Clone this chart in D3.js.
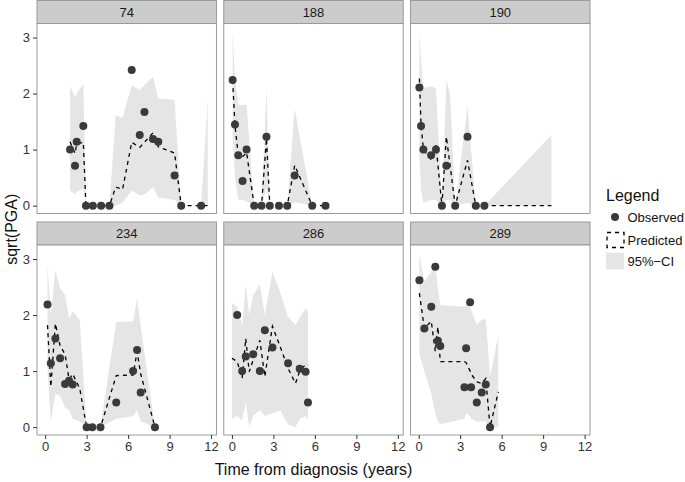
<!DOCTYPE html>
<html><head><meta charset="utf-8">
<script src="https://cdn.jsdelivr.net/npm/d3@7"></script>
<style>body{margin:0;background:#fff}svg{display:block}</style>
</head><body>
<svg id="chart" width="685" height="482"></svg>
<script>
// ---- data ----
const panelIds = ["74", "188", "190", "234", "286", "289"];
const xTicks = [0, 3, 6, 9, 12];
const yTicks = [0, 1, 2, 3];
const legendLabels = ["Observed", "Predicted", "95%\u2212CI"];

const time74 = [1.8, 2.16, 2.28, 2.76, 2.95, 3.45, 4.05, 4.65, 5.1, 5.6, 6.26, 6.84, 7.18, 7.8, 8.18, 9.36, 9.84, 11.28, 11.76];
const obs74  = [1.0, 0.71, 1.14, 1.42, 0, 0, 0, 0, null, null, 2.42, 1.26, 1.67, 1.19, 1.14, 0.54, 0, 0, null];
const pred74 = [1.14, 0.93, 1.1, 1.13, 0, 0, 0, 0, 0.33, 0.29, 1.13, 1.04, 1.13, 1.3, 1.05, 0.94, 0, 0, 0];
const lo74   = [0.27, 0.21, 0.25, 0.3, 0, 0, 0, 0, 0, 0.05, 0.27, 0.18, 0.2, 0.33, 0.15, 0.1, 0, 0, 0];
const hi74   = [2.13, 1.94, 2.0, 2.17, 0, 0, 0, 0, 1.61, 1.57, 2.15, 2.06, 2.15, 2.3, 1.91, 1.89, 0, 0, 1.9];

const time188 = [0.05, 0.22, 0.46, 0.77, 1.06, 1.61, 2.14, 2.5, 2.74, 3.4, 4.0, 4.54, 5.81, 6.77];
const obs188  = [2.24, 1.45, 0.9, 0.44, 1.0, 0, 0, 1.23, 0, 0, 0, 0.54, 0, 0];
const pred188 = [2.24, 1.43, 0.9, 0.87, 0.95, 0, 0, 1.2, 0, 0, 0, 0.72, 0, 0];
const lo188   = [1.2, 0.5, 0.1, 0.1, 0.08, 0, 0, 0.3, 0, 0, 0, 0.06, 0, 0];
const hi188   = [3.1, 2.3, 1.8, 1.8, 1.8, 0, 0, 2.09, 0, 0, 0, 1.73, 0, 0];

const time190 = [0.05, 0.17, 0.34, 0.9, 1.25, 1.68, 2.0, 2.28, 2.64, 3.53, 4.13, 4.75, 9.6];
const obs190  = [2.11, 1.42, 1.0, 0.9, 1.0, 0, 0.71, null, 0, 1.23, 0, 0, null];
const pred190 = [2.27, 1.45, 1.0, 0.82, 1.08, 0, 1.23, 0.7, 0, 0.81, 0, 0, 0];
const lo190   = [0.9, 0.3, 0.05, 0.1, 0.1, 0, 0.1, 0.1, 0, 0.05, 0, 0, 0];
const hi190   = [3.1, 2.6, 2.1, 2.13, 2.09, 0, 2.24, 1.97, 0, 1.77, 0, 0, 1.26];

const time234 = [0.17, 0.41, 0.74, 1.08, 1.44, 1.73, 1.99, 2.5, 3.0, 3.41, 4.0, 5.14, 6.36, 6.65, 6.91, 7.94];
const obs234  = [2.19, 1.14, 1.58, 1.23, 0.77, 0.83, 0.76, null, 0, 0, 0, 0.44, 1.0, 1.375, 0.62, 0];
const pred234 = [1.82, 0.72, 1.85, 1.45, 1.3, 0.85, 0.95, 0.69, 0, 0, 0, 0.92, 0.93, 1.35, 0.95, 0];
const lo234   = [1.0, 0.1, 0.6, 0.55, 0.35, 0.3, 0.15, 0.1, 0, 0, 0, 0.15, 0.2, 0.3, 0.1, 0];
const hi234   = [2.89, 2.0, 2.8, 2.48, 2.36, 1.94, 2.07, 1.91, 0, 0, 0, 1.87, 1.89, 2.3, 1.8, 0];

const time286 = [0, 0.38, 0.74, 1.0, 1.25, 1.54, 2.02, 2.38, 2.93, 3.5, 4.06, 4.6, 4.9, 5.33, 5.5];
const obs286  = [null, 2.0, 1.0, 1.26, null, 1.3, 1.0, 1.73, 1.42, null, 1.14, null, 1.04, 0.99, 0.44];
const pred286 = [1.23, 1.17, 0.87, 1.58, 0.99, 1.2, 1.55, 0.9, 1.8, 1.43, 1.05, 0.78, 1.0, 1.12, 1.1];
const lo286   = [0.15, 0.2, 0.12, 0.45, 0.0, 0.2, 0.3, 0.2, 0.25, 0.3, 0.05, 0.0, 0.15, 0.2, 0.15];
const hi286   = [2.21, 2.15, 1.82, 2.54, 2.0, 2.36, 2.54, 2.0, 2.77, 2.4, 1.97, 1.82, 1.95, 2.12, 2.06];

const time289 = [0.05, 0.41, 0.91, 1.2, 1.39, 1.56, 3.31, 3.43, 3.72, 3.79, 4.2, 4.56, 4.85, 5.16, 5.76];
const obs289  = [2.62, 1.76, 2.15, 2.86, 1.54, 1.45, 0.71, 1.41, 2.23, 0.71, 0.44, 0.62, 0.76, 0, null];
const pred289 = [2.39, 1.76, 1.89, 1.35, 1.79, 1.17, 1.17, 1.15, 1.0, 0.95, 0.81, 0.78, 0.87, 0, 0.63];
const lo289   = [1.3, 1.0, 0.6, 0.25, 0.1, 0.05, 0.15, 0.25, 0.2, 0.15, 0.1, 0.1, 0.1, 0, 0];
const hi289   = [3.07, 2.6, 2.77, 2.92, 2.48, 2.18, 2.15, 2.2, 2.12, 2.1, 1.82, 1.91, 1.94, 0.9, 1.64];

const panelData = {
  "74":  {time: time74,  obs: obs74,  pred: pred74,  lo: lo74,  hi: hi74},
  "188": {time: time188, obs: obs188, pred: pred188, lo: lo188, hi: hi188},
  "190": {time: time190, obs: obs190, pred: pred190, lo: lo190, hi: hi190},
  "234": {time: time234, obs: obs234, pred: pred234, lo: lo234, hi: hi234},
  "286": {time: time286, obs: obs286, pred: pred286, lo: lo286, hi: hi286},
  "289": {time: time289, obs: obs289, pred: pred289, lo: lo289, hi: hi289}
};

// ---- layout ----
const FONT = "'Liberation Sans', Arial, Helvetica, sans-serif";
const left = 37, right = 590, gapX = 7.3;
const pw = (right - left - 2 * gapX) / 3;
const stripH = 23, ph = 190, rowTop = [0.5, 222];
const ciFill = "#e5e5e5", ptFill = "#3a3a3a", borderCol = "#9a9a9a";

const svg = d3.select("#chart").style("font-family", FONT);

panelIds.forEach((id, i) => {
  const col = i % 3, row = Math.floor(i / 3);
  const px = left + col * (pw + gapX);
  const sy = rowTop[row];
  const py = sy + stripH;
  const d = panelData[id];
  const rows = d.time.map((t, k) => ({t, obs: d.obs[k], pred: d.pred[k], lo: d.lo[k], hi: d.hi[k]}));

  const x = d3.scaleLinear().domain([-0.59, 12.39]).range([px, px + pw]);
  const y = d3.scaleLinear().domain([-0.14, 3.25]).range([py + ph, py]);

  const g = svg.append("g");
  // strip
  g.append("rect").attr("x", px).attr("y", sy).attr("width", pw).attr("height", stripH)
    .attr("fill", "#cccccc").attr("stroke", borderCol).attr("stroke-width", 1);
  g.append("text").attr("x", px + pw / 2).attr("y", sy + stripH / 2).attr("dy", "0.36em")
    .attr("text-anchor", "middle").attr("font-size", 13).attr("fill", "#1a1a1a").text(id);
  // panel background
  g.append("rect").attr("x", px).attr("y", py).attr("width", pw).attr("height", ph).attr("fill", "#fff");

  // ribbon
  g.append("path").datum(rows)
    .attr("d", d3.area().x(r => x(r.t)).y0(r => y(r.lo)).y1(r => y(r.hi)))
    .attr("fill", ciFill);
  // predicted line
  g.append("path").datum(rows)
    .attr("d", d3.line().x(r => x(r.t)).y(r => y(r.pred)))
    .attr("fill", "none").attr("stroke", "#000").attr("stroke-width", 1.3)
    .attr("stroke-dasharray", "4,4");
  // observed points
  g.selectAll("circle.obs").data(rows.filter(r => r.obs !== null)).join("circle")
    .attr("class", "obs").attr("cx", r => x(r.t)).attr("cy", r => y(r.obs))
    .attr("r", 4).attr("fill", ptFill);

  // panel border
  g.append("rect").attr("x", px).attr("y", py).attr("width", pw).attr("height", ph)
    .attr("fill", "none").attr("stroke", borderCol).attr("stroke-width", 1);

  // axes
  if (col === 0) {
    const ay = g.append("g").attr("transform", `translate(${px},0)`)
      .call(d3.axisLeft(y).tickValues(yTicks).tickSize(4).tickPadding(3).tickFormat(d3.format("d")));
    ay.select(".domain").remove();
    ay.selectAll("line").attr("stroke", "#333");
    ay.selectAll("text").attr("font-size", 13).attr("fill", "#333").attr("font-family", FONT);
  }
  if (row === 1) {
    const ax = g.append("g").attr("transform", `translate(0,${py + ph})`)
      .call(d3.axisBottom(x).tickValues(xTicks).tickSize(4).tickPadding(3).tickFormat(d3.format("d")));
    ax.select(".domain").remove();
    ax.selectAll("line").attr("stroke", "#333");
    ax.selectAll("text").attr("font-size", 13).attr("fill", "#333").attr("font-family", FONT);
  }
});

// axis titles
svg.append("text").attr("x", (left + right) / 2).attr("y", 475).attr("text-anchor", "middle")
  .attr("font-size", 16).attr("fill", "#111").text("Time from diagnosis (years)");
svg.append("text").attr("transform", `translate(17,${(23.5 + 435) / 2}) rotate(-90)`)
  .attr("text-anchor", "middle").attr("font-size", 16).attr("fill", "#111").text("sqrt(PGA)");

// legend
const lg = svg.append("g");
lg.append("text").attr("x", 606).attr("y", 201).attr("font-size", 16).attr("fill", "#111").text("Legend");
const keyX = 606, keyW = 18;
const keyY = [217, 240, 261];
lg.append("circle").attr("cx", keyX + keyW / 2).attr("cy", keyY[0]).attr("r", 4).attr("fill", ptFill);
lg.append("rect").attr("x", keyX + 1).attr("y", keyY[1] - 7.5).attr("width", keyW - 1).attr("height", 15)
  .attr("fill", "#fff").attr("stroke", "#000").attr("stroke-width", 1.3).attr("stroke-dasharray", "4,4");
lg.append("rect").attr("x", keyX).attr("y", keyY[2] - 8.5).attr("width", keyW).attr("height", 17)
  .attr("fill", ciFill);
legendLabels.forEach((lab, k) => {
  lg.append("text").attr("x", keyX + keyW + 3.5).attr("y", keyY[k]).attr("dy", "0.36em")
    .attr("font-size", 13).attr("fill", "#111").text(lab);
});
</script>
</body></html>
